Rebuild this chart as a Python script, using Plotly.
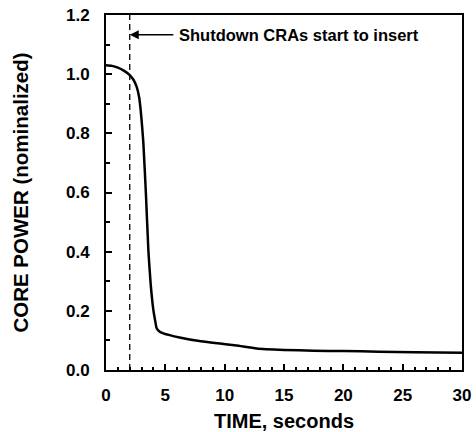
import plotly.graph_objects as go

time_s = [0, 0.5, 1.0, 1.5, 2.0, 2.3, 2.58, 2.8, 2.92, 3.05, 3.15, 3.37, 3.57, 3.76, 3.99, 4.15, 4.27, 4.5, 4.83, 6.2, 8.0, 9.9, 11.0, 12.7, 15.0, 17.5, 20.0, 23.0, 26.0, 30.0]
power = [1.03, 1.028, 1.022, 1.012, 0.997, 0.982, 0.958, 0.92, 0.879, 0.82, 0.766, 0.59, 0.405, 0.293, 0.203, 0.165, 0.141, 0.13, 0.124, 0.11, 0.097, 0.088, 0.083, 0.073, 0.068, 0.065, 0.064, 0.062, 0.060, 0.058]

insert_time = 2.0
annot_text = "Shutdown CRAs start to insert"
x_ticks = [0, 5, 10, 15, 20, 25, 30]
y_ticks = [0.0, 0.2, 0.4, 0.6, 0.8, 1.0, 1.2]

font_fam = "Liberation Sans, Arial, sans-serif"

fig = go.Figure()
fig.add_trace(go.Scatter(x=time_s, y=power, mode="lines",
                         line=dict(color="black", width=2.5, shape="spline", smoothing=0.5),
                         showlegend=False, hoverinfo="skip"))
fig.add_trace(go.Scatter(x=[insert_time, insert_time], y=[0, 1.2], mode="lines",
                         line=dict(color="black", width=1.3, dash="6px,4px"),
                         showlegend=False, hoverinfo="skip"))

fig.add_annotation(x=insert_time, y=1.133, ax=5.8, ay=1.133, axref="x", ayref="y",
                   xref="x", yref="y", text="", showarrow=True,
                   arrowhead=2, arrowsize=1.2, arrowwidth=1.5, arrowcolor="black")
fig.add_annotation(x=6.0, y=1.133, xref="x", yref="y", text=annot_text,
                   showarrow=False, xanchor="left", yanchor="middle",
                   font=dict(family=font_fam, size=16.5, color="black", weight="bold"))

axis_common = dict(showline=True, linecolor="black", linewidth=2, mirror=True,
                   ticks="inside", tickcolor="black", tickwidth=2, ticklen=6,
                   showgrid=False, zeroline=False, automargin=False,
                   tickfont=dict(family=font_fam, size=17, color="black", weight="bold"))

fig.update_xaxes(range=[0, 30], tickvals=x_ticks, ticktext=[str(v) for v in x_ticks],
                 minor=dict(dtick=1, ticks="inside", ticklen=3, tickwidth=1.5, tickcolor="black"),
                 title=dict(text="TIME, seconds", standoff=10,
                            font=dict(family=font_fam, size=20, color="black", weight="bold")),
                 ticklabelstandoff=9,
                 **axis_common)
fig.update_yaxes(range=[0, 1.2], tickvals=y_ticks, ticktext=[f"{v:.1f}" for v in y_ticks],
                 minor=dict(dtick=0.1, tick0=0, ticks="inside", ticklen=4, tickwidth=1.5, tickcolor="black"),
                 title=dict(text="CORE POWER (nominalized)", standoff=32,
                            font=dict(family=font_fam, size=20.5, color="black", weight="bold")),
                 ticklabelstandoff=11,
                 **axis_common)

fig.update_layout(width=476, height=432, margin=dict(l=106, r=14, t=15, b=62),
                  paper_bgcolor="white", plot_bgcolor="white")

fig.write_html("out.html")
